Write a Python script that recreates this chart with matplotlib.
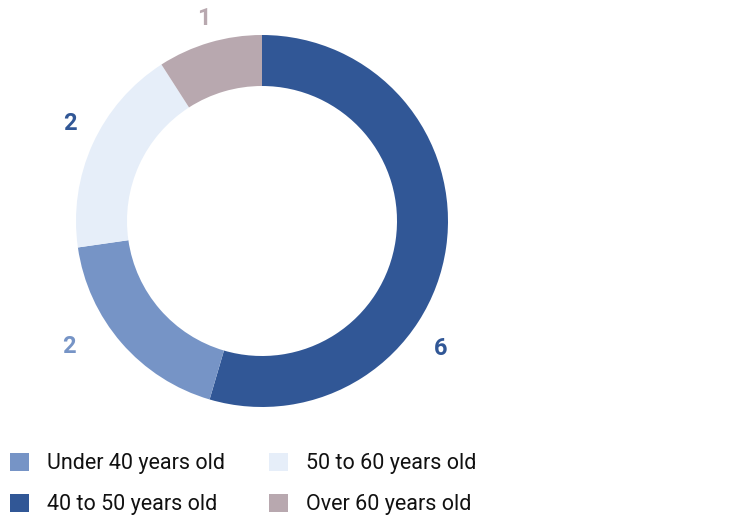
import numpy as np
import matplotlib
matplotlib.use("Agg")
import matplotlib.pyplot as plt

plt.rcParams['font.family'] = ['Roboto', 'DejaVu Sans']

# data
categories = ['Under 40 years old', '40 to 50 years old', '50 to 60 years old', 'Over 60 years old']
counts = [2, 6, 2, 1]
colors = ['#7694c6', '#315796', '#e6eef9', '#b8a8af']
label_colors = ['#7694c6', '#315796', '#315796', '#b8a8af']
pie_order = [1, 0, 2, 3]  # clockwise from top

# label placement (angle deg, distance px from centre), in category order
label_ang = [213, -35.5, 153, 106]
label_r = [230, 219, 215, 211]

W, H = 750, 531
fig = plt.figure(figsize=(W/100, H/100), dpi=100)
ax = fig.add_axes([0, 0, 1, 1])

cx, cy = 262, H - 221
R = 186
wedges, _ = ax.pie([counts[i] for i in pie_order],
                   colors=[colors[i] for i in pie_order],
                   startangle=90, counterclock=False,
                   radius=R, center=(cx, cy),
                   wedgeprops=dict(width=51, linewidth=0))
ax.set_xlim(0, W)
ax.set_ylim(0, H)
ax.set_aspect('equal')
ax.axis('off')

for i, n in enumerate(counts):
  a = np.deg2rad(label_ang[i])
  ax.text(cx + label_r[i]*np.cos(a), cy + label_r[i]*np.sin(a), str(n),
          ha='center', va='center', fontsize=17, fontweight='bold',
          color=label_colors[i])

handles = [wedges[pie_order.index(i)] for i in range(len(categories))]
fig.legend(handles, categories, loc='upper left', bbox_to_anchor=(10/W, 1 - 453/H),
           ncol=2, frameon=False, fontsize=15.5, handlelength=0.88, handleheight=0.88,
           handletextpad=0.84, columnspacing=2.05, labelspacing=0.92,
           borderpad=0, borderaxespad=0, labelcolor='#111111')

fig.savefig('out.png', dpi=100)
